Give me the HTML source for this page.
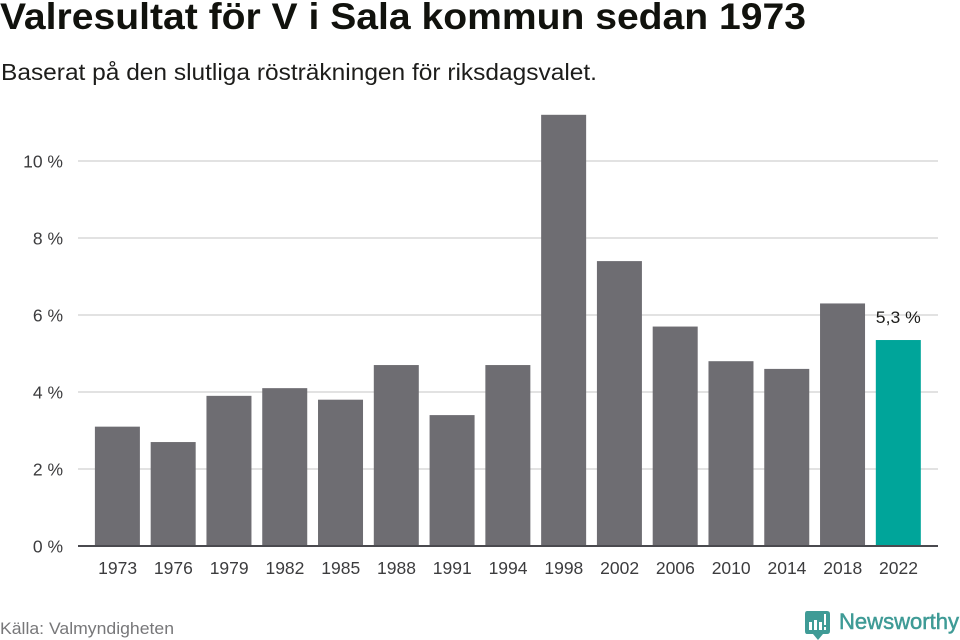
<!DOCTYPE html>
<html lang="sv">
<head>
<meta charset="utf-8">
<title>Valresultat för V i Sala kommun sedan 1973</title>
<style>
html,body{margin:0;padding:0;background:#fff;}
svg{display:block;font-family:"Liberation Sans",sans-serif;}
</style>
</head>
<body>
<svg id="chart" width="960" height="640" viewBox="0 0 960 640" xmlns="http://www.w3.org/2000/svg">
  <text x="0" y="29" font-size="37" font-weight="700" fill="#11120d" textLength="806" lengthAdjust="spacingAndGlyphs">Valresultat för V i Sala kommun sedan 1973</text>
  <text x="1" y="80" font-size="23" fill="#1d1d1b" textLength="596" lengthAdjust="spacingAndGlyphs">Baserat på den slutliga rösträkningen för riksdagsvalet.</text>
  <g id="grid"></g>
  <g id="bars"></g>
  <g id="xticks"></g>
  <g id="yticks"></g>
  <line x1="78" x2="938" y1="546" y2="546" stroke="#4a4a4f" stroke-width="2"></line>
  <text id="last-label" font-size="17" fill="#1d1d1b" text-anchor="middle" textLength="45" lengthAdjust="spacingAndGlyphs"></text>
  <text x="0" y="634" font-size="17" fill="#777779" textLength="174" lengthAdjust="spacingAndGlyphs">Källa: Valmyndigheten</text>
  <g>
    <path d="M807 611H827Q830 611 830 614V631Q830 634 827 634H823L818 640L813 634H807Q805 634 805 631V614Q805 611 807 611Z" fill="#3f9b96"></path>
    <rect x="809" y="622" width="3" height="8" fill="#fff"></rect>
    <rect x="814" y="620" width="3" height="10" fill="#fff"></rect>
    <rect x="819" y="622" width="3" height="8" fill="#fff"></rect>
    <rect x="824" y="614" width="2" height="11" fill="#fff"></rect>
    <rect x="824" y="627" width="2" height="3" fill="#fff"></rect>
    <text x="839" y="629" font-size="22" font-weight="400" stroke="#3f9b96" stroke-width="0.5" fill="#3f9b96" textLength="120" lengthAdjust="spacingAndGlyphs">Newsworthy</text>
  </g>
</svg>
<script>
const years = ["1973","1976","1979","1982","1985","1988","1991","1994","1998","2002","2006","2010","2014","2018","2022"];
const shares = [3.1,2.7,3.9,4.1,3.8,4.7,3.4,4.7,11.2,7.4,5.7,4.8,4.6,6.3,5.35];
const yTickValues = [0,2,4,6,8,10];
const yTickLabels = ["0 %","2 %","4 %","6 %","8 %","10 %"];
const lastValueLabel = "5,3 %";

const SVGNS = "http://www.w3.org/2000/svg";
const y0 = 546, pxPerUnit = 38.5, xFirst = 117.4, step = 55.78, barWidth = 45;
function yScale(v){ return y0 - v * pxPerUnit; }
function xScale(i){ return xFirst + i * step; }
function make(tag, attrs, parent, text){
  const el = document.createElementNS(SVGNS, tag);
  for (const k in attrs) el.setAttribute(k, attrs[k]);
  if (text !== undefined) el.textContent = text;
  parent.appendChild(el);
  return el;
}
const grid = document.getElementById("grid");
const yticks = document.getElementById("yticks");
yTickValues.forEach(function(v, i){
  if (v !== 0) {
    const line = make("line", {x1:78, x2:938, y1:yScale(v), y2:yScale(v), stroke:"#e2e2e2", "stroke-width":2}, grid);
    
    
  }
  const label = make("text", {x:63, y:yScale(v)+6.5, "font-size":17.5, fill:"#3c3c3e", "text-anchor":"end"}, yticks, yTickLabels[i]);
  
  
});
const bars = document.getElementById("bars");
const xticks = document.getElementById("xticks");
years.forEach(function(year, i){
  const isLast = i === years.length - 1;
  const bar = make("rect", {x:xScale(i)-barWidth/2, y:yScale(shares[i]), width:barWidth, height:y0-yScale(shares[i]), fill:isLast ? "#00a59a" : "#6e6d72"}, bars);
  
  
  const label = make("text", {x:xScale(i)+0.2, y:574, "font-size":17.5, fill:"#3c3c3e", "text-anchor":"middle"}, xticks, year);
  
  
});
const last = document.getElementById("last-label");
last.setAttribute("x", xScale(years.length-1));
last.setAttribute("y", yScale(shares[shares.length-1]) - 17);
last.textContent = lastValueLabel;
</script>
</body>
</html>
